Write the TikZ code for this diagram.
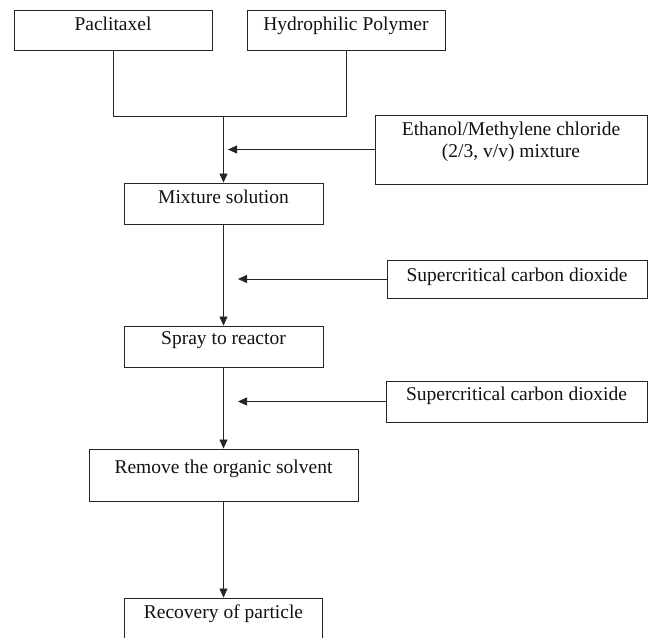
\documentclass[tikz,border=0pt]{standalone}
\usepackage{fontspec}
\setmainfont{Liberation Serif}
\usepackage{tikz}
\usetikzlibrary{arrows.meta,positioning,calc}
\definecolor{inkline}{HTML}{262626}
\definecolor{inktext}{HTML}{111111}
\tikzset{
  >={Triangle[length=9pt,width=8pt]},
  % flödesschema
  stepbox/.style={draw=inkline,line width=0.9pt,rectangle,inner xsep=2pt,
                  inner ysep=0pt,align=center,text=inktext},
  flow/.style={->,draw=inkline,line width=0.8pt},
  feed/.style={->,draw=inkline,line width=0.8pt},
}

\begin{document}
\begin{tikzpicture}[x=1pt,y=-1pt,font=\fontsize{19.5}{22}\selectfont]
  \path[use as bounding box,clip] (0,0) rectangle (652,637);
  \node[stepbox,minimum width=198,text height=20,text depth=20] (pac) at (113,30) {Paclitaxel};
  \node[stepbox,minimum width=198,text height=20,text depth=20] (hyd) at (346,30) {Hydrophilic Polymer};
  \node[stepbox,minimum width=272,text height=42,text depth=27] (eth) at (511,149.5)
    {Ethanol/Methylene chloride\\(2/3, v/v) mixture};
  \node[stepbox,minimum width=199,text height=20,text depth=21] (mix) at (223.5,203.5) {Mixture solution};
  \node[stepbox,minimum width=260,text height=21,text depth=17] (scd1) at (517,279) {Supercritical carbon dioxide};
  \node[stepbox,minimum width=199,text height=18,text depth=23] (spray) at (223.5,346.5) {Spray to reactor};
  \node[stepbox,minimum width=261,text height=19,text depth=22] (scd2) at (516.5,401.5) {Supercritical carbon dioxide};
  \node[stepbox,minimum width=269,text height=24,text depth=28] (rem) at (223.5,475) {Remove the organic solvent};
  \node[stepbox,minimum width=198,text height=20,text depth=32] (rec) at (223.5,624) {Recovery of particle};
  % sammanfogning
  \coordinate (j) at (223.5,116);
  \coordinate (in1) at (228,149.5);
  \coordinate (in2) at (238,279);
  \coordinate (in3) at (238,401.5);
  \draw[inkline,line width=0.8pt] (pac.south) -- (pac.south |- j) -- (hyd.south |- j) -- (hyd.south);
  \draw[flow] (j) -- (mix);
  \draw[flow] (mix) -- (spray);
  \draw[flow] (spray) -- (rem);
  \draw[flow] (rem) -- (rec);
  \draw[feed] (eth.west) -- (in1);
  \draw[feed] (scd1.west) -- (in2);
  \draw[feed] (scd2.west) -- (in3);
\end{tikzpicture}
\end{document}
